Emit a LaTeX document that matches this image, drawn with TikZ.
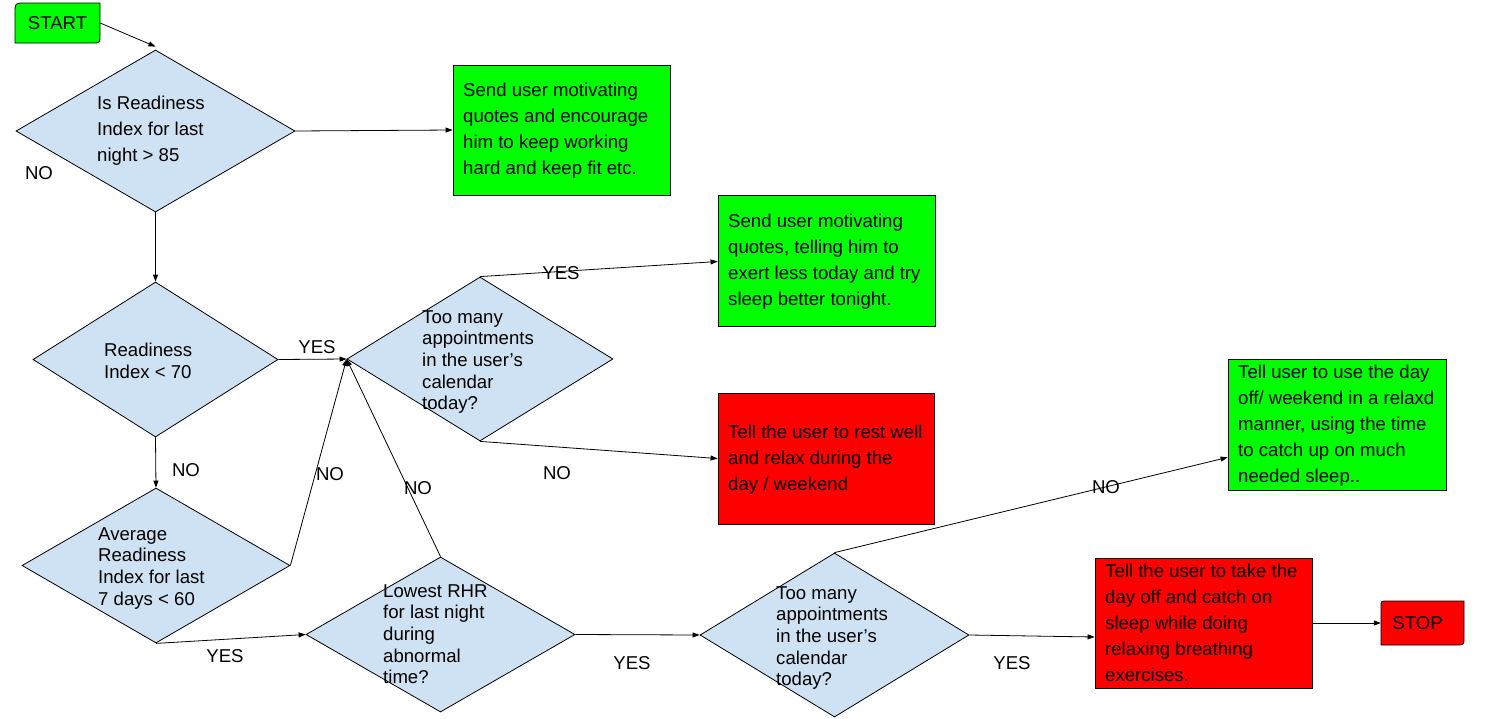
\documentclass[tikz,border=0pt]{standalone}
\usepackage{fontspec}
\setmainfont{Liberation Sans}
\usetikzlibrary{shapes.geometric,arrows.meta,calc}
\definecolor{dblue}{HTML}{CFE2F3}
\definecolor{bgreen}{HTML}{00FF00}
\definecolor{bred}{HTML}{FF0000}
\begin{document}
\begin{tikzpicture}[x=1pt,y=-1pt,
  dia/.style={diamond, draw=black, fill=dblue, inner sep=0pt, line width=0.8pt},
  box/.style={rectangle, draw=black, inner sep=0pt, line width=0.8pt},
  txt/.style={anchor=north west, inner sep=0pt, align=left, font=\fontsize{18.6}{26}\selectfont},
  dtxt/.style={anchor=north west, inner sep=0pt, align=left, font=\fontsize{18.6}{21.7}\selectfont},
  lbl/.style={inner sep=0pt, font=\fontsize{18.6}{22}\selectfont},
  arr/.style={-{Triangle[length=7pt,width=5pt]}, line width=0.8pt},
  term/.style={draw=black, line width=0.8pt}]
\useasboundingbox (0,0) rectangle (1492,718);
\fill[white] (0,0) rectangle (1492,718);

% terminators
\draw[term, fill=bgreen] (15,43) -- (15,13) .. controls (15,3) .. (25,3) -- (100,3) -- (100,35) .. controls (100,43) .. (92,43) -- cycle;
\node[lbl, minimum width=85pt, minimum height=40pt] (start) at (57.5,23) {START};
\draw[term, fill=bred] (1381,645) -- (1381,607) .. controls (1381,601) .. (1387,601) -- (1464,601) -- (1464,637) .. controls (1464,645) .. (1456,645) -- cycle;
\node[lbl, minimum width=83pt, minimum height=44pt] (stop) at (1422.5,623) {STOP\hspace*{10pt}};

% diamonds
\node[dia, minimum width=279pt, minimum height=162pt] (d1) at (155.5,131) {};
\node[dia, minimum width=245pt, minimum height=155pt] (d2) at (155.5,359.5) {};
\node[dia, minimum width=266pt, minimum height=164pt] (d3) at (480,359) {};
\node[dia, minimum width=268pt, minimum height=155pt] (d4) at (156,565.5) {};
\node[dia, minimum width=269pt, minimum height=155pt] (d5) at (440.5,634.5) {};
\node[dia, minimum width=269pt, minimum height=164pt] (d6) at (834.5,635) {};

% boxes
\node[box, fill=bgreen, minimum width=217pt, minimum height=130pt] (b1) at (561.5,130) {};
\node[box, fill=bgreen, minimum width=217pt, minimum height=131pt] (b2) at (826.5,260.5) {};
\node[box, fill=bred, minimum width=216pt, minimum height=131pt] (r1) at (826,458.5) {};
\node[box, fill=bgreen, minimum width=218pt, minimum height=131pt] (g3) at (1337,424.5) {};
\node[box, fill=bred, minimum width=217pt, minimum height=130pt] (r2) at (1203.5,623) {};

% texts
\node[txt] (t1) at (97,96) {Is Readiness\\Index for last\\night > 85};
\node[dtxt] (t2) at (104,343) {Readiness\\Index < 70};
\node[dtxt] (t3) at (422,310) {Too many\\appointments\\in the user’s\\calendar\\today?};
\node[dtxt] (t4) at (98,527) {Average\\Readiness\\Index for last\\7 days < 60};
\node[dtxt] (t5) at (383,584) {Lowest RHR\\for last night\\during\\abnormal\\time?};
\node[dtxt] (t6) at (776,586) {Too many\\appointments\\in the user’s\\calendar\\today?};
\node[txt] (tb1) at (463,83) {Send user motivating\\quotes and encourage\\him to keep working\\hard and keep fit etc.};
\node[txt] (tb2) at (728,214) {Send user motivating\\quotes, telling him to\\exert less today and try\\sleep better tonight.};
\node[txt] (tr1) at (728,425) {Tell the user to rest well\\and relax during the\\day / weekend};
\node[txt] (tg3) at (1238,365) {Tell user to use the day\\off/ weekend in a relaxd\\manner, using the time\\to catch up on much\\needed sleep..};
\node[txt] (tr2) at (1105,564) {Tell the user to take the\\day off and catch on\\sleep while doing\\relaxing breathing\\exercises.};

% connectors
\draw[arr] (start.east) -- ([yshift=3pt]d1.north);
\draw[arr] (d1.east) -- (b1.west);
\draw[arr] (d1.south) -- (d2.north);
\draw[arr] (d2.east) -- (d3.west);
\draw[arr] (d3.north) -- ([yshift=-1pt]b2.west);
\draw[arr] (d3.south) -- (r1.west);
\draw[arr] (d2.south) -- (d4.north);
\draw[arr] (d4.east) -- (d3.west);
\draw[arr] (d4.south) -- (d5.west);
\draw[arr] (d5.north) -- (d3.west);
\draw[arr] (d5.east) -- (d6.west);
\draw[arr] (d6.north) -- ([yshift=33pt]g3.south west);
\draw[arr] (d6.east) -- ([yshift=-14pt]r2.west);
\draw[arr] (r2.east) -- (stop.west);

% labels
\node[lbl] (l1) at (39,173) {NO};
\node[lbl] (l2) at (317,347) {YES};
\node[lbl] (l3) at (561,273) {YES};
\node[lbl] (l4) at (557,473) {NO};
\node[lbl] (l5) at (186,470) {NO};
\node[lbl] (l6) at (330,474) {NO};
\node[lbl] (l7) at (418,488) {NO};
\node[lbl] (l8) at (225,656) {YES};
\node[lbl] (l9) at (632,663) {YES};
\node[lbl] (l10) at (1106,487) {NO};
\node[lbl] (l11) at (1012,663) {YES};
\end{tikzpicture}
\end{document}
